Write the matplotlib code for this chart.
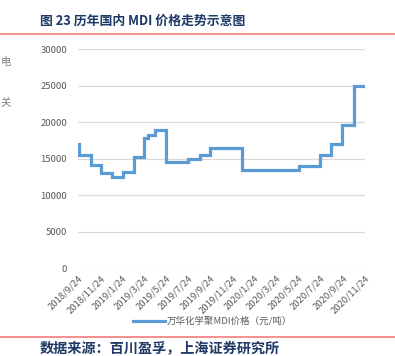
import matplotlib
matplotlib.use("Agg")
import matplotlib.pyplot as plt
import matplotlib.dates as mdates
import pandas as pd

plt.rcParams['font.family'] = ['Noto Sans CJK SC', 'DejaVu Sans']

# data: step change dates and prices (元/吨)
change_dates = ["2018-09-24", "2018-09-26", "2018-10-28", "2018-11-25", "2018-12-25",
                "2019-01-26", "2019-02-24", "2019-03-24", "2019-04-05", "2019-04-23",
                "2019-05-25", "2019-07-24", "2019-08-25", "2019-09-24", "2019-12-21",
                "2020-05-25", "2020-07-24", "2020-08-22", "2020-09-22", "2020-10-24",
                "2020-11-24"]
prices = [17000, 15500, 14200, 13000, 12500,
          13200, 15200, 17800, 18300, 19000,
          14500, 15000, 15500, 16500, 13500,
          14000, 15500, 17000, 19600, 25000,
          25000]
tick_labels = ["2018/9/24", "2018/11/24", "2019/1/24", "2019/3/24", "2019/5/24",
               "2019/7/24", "2019/9/24", "2019/11/24", "2020/1/24", "2020/3/24",
               "2020/5/24", "2020/7/24", "2020/9/24", "2020/11/24"]
y_ticks = [0, 5000, 10000, 15000, 20000, 25000, 30000]
series_name = "万华化学聚MDI价格（元/吨）"

dates = pd.to_datetime(change_dates)
tick_dates = pd.to_datetime(tick_labels, format="%Y/%m/%d")

W, H = 395, 356
fig = plt.figure(figsize=(W / 100, H / 100), dpi=100)
ax = fig.add_axes([78.3 / W, 1 - 268.3 / H, (365 - 78.3) / W, (268.3 - 49.3) / H])

ax.plot(dates, prices, drawstyle="steps-post", color="#5B9BD5", lw=2.3,
        solid_joinstyle="miter")
ax.set_xlim(dates[0], dates[-1])
ax.set_ylim(0, 30000)
ax.set_yticks(y_ticks)
ax.set_yticklabels([str(v) for v in y_ticks])
ax.set_xticks(tick_dates)
ax.set_xticklabels(tick_labels, rotation=45, ha="right", rotation_mode="anchor")
ax.tick_params(axis="both", length=0, labelsize=6.8, colors="#595959")
ax.tick_params(axis="y", pad=8)
ax.tick_params(axis="x", pad=4)
ax.grid(axis="y", color="#D9D9D9", lw=0.9)
ax.set_axisbelow(True)
for s in ax.spines.values():
    s.set_visible(False)

# legend
fig.lines.append(plt.Line2D([133 / W, 165 / W], [1 - 321 / H, 1 - 321 / H],
                            transform=fig.transFigure, color="#5B9BD5", lw=2.3))
fig.text(167 / W, 1 - 321 / H, series_name, fontsize=6.8, color="#595959",
         va="center", ha="left")

# title and decorations
fig.text(40 / W, 1 - 21 / H, "图 23 历年国内 MDI 价格走势示意图", fontsize=9.3,
         fontweight="bold", color="#1F3A68", va="center", ha="left")
fig.lines.append(plt.Line2D([0, 1], [1 - 33.5 / H, 1 - 33.5 / H],
                            transform=fig.transFigure, color="#F47C7C", lw=1.2))
fig.lines.append(plt.Line2D([0, 1], [1 - 336.5 / H, 1 - 336.5 / H],
                            transform=fig.transFigure, color="#F47C7C", lw=1.2))
fig.text(40 / W, 1 - 349 / H, "数据来源：百川盈孚，上海证券研究所", fontsize=10.2,
         fontweight="bold", style="italic", color="#1F3A68", va="center", ha="left")

# side characters from neighbouring text
fig.text(0.5 / W, 1 - 62 / H, "电", fontsize=7.5, color="#7F7F7F", va="center", ha="left")
fig.text(0.5 / W, 1 - 102 / H, "关", fontsize=7.5, color="#7F7F7F", va="center", ha="left")

fig.savefig("out.png", dpi=100)
